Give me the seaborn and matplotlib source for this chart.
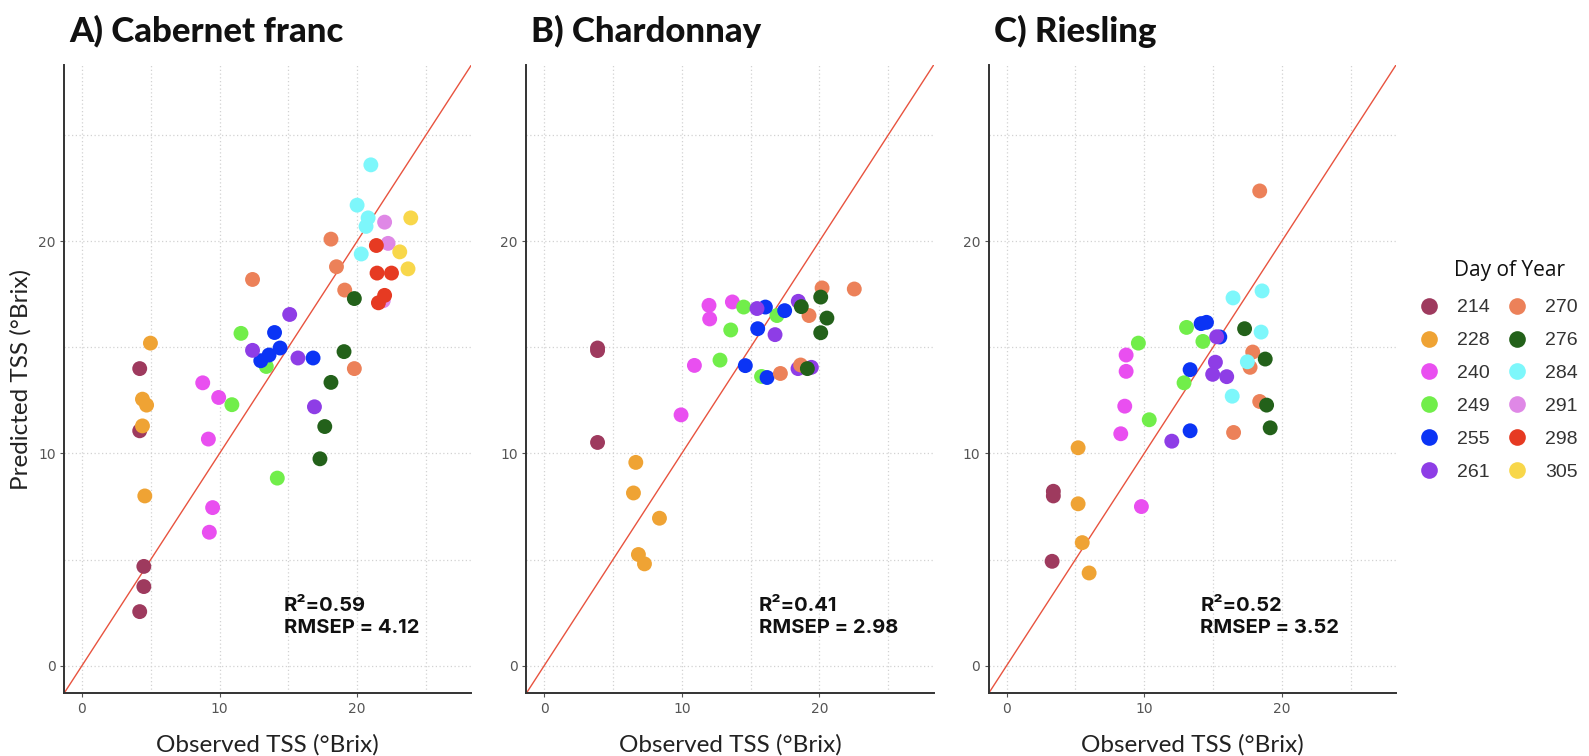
import matplotlib
matplotlib.use("Agg")
import matplotlib.pyplot as plt
from matplotlib.lines import Line2D
from matplotlib.ticker import MultipleLocator
import seaborn as sns
import pandas as pd

# ---------------- data ----------------
days = ["214", "228", "240", "249", "255", "261", "270", "276", "284", "291", "298", "305"]
day_colors = ["#9E3A5E", "#EFA334", "#E94FF0", "#71EE4A", "#0B34F5", "#8E3DE6",
              "#EC8159", "#23611A", "#7DF7FB", "#DF88E6", "#E63A22", "#F8D74A"]

panel_titles = ["A) Cabernet franc", "B) Chardonnay", "C) Riesling"]
panel_stats = ["R\u00b2=0.59\nRMSEP = 4.12", "R\u00b2=0.41\nRMSEP = 2.98", "R\u00b2=0.52\nRMSEP = 3.52"]

cf_day = ["214"] * 5 + ["228"] * 5 + ["240"] * 5 + ["249"] * 4 + ["255"] * 5 + ["261"] * 4 + \
         ["270"] * 5 + ["276"] * 5 + ["284"] * 5 + ["291"] * 3 + ["298"] * 5 + ["305"] * 3
cf_obs = [4.2, 4.2, 4.5, 4.5, 4.2,
          4.98, 4.4, 4.7, 4.4, 4.57,
          8.78, 9.94, 9.19, 9.5, 9.26,
          11.56, 13.4, 10.9, 14.2,
          14.0, 14.4, 13.6, 13.0, 16.8,
          15.1, 12.4, 15.7, 16.9,
          18.1, 18.5, 12.4, 19.1, 19.8,
          19.8, 19.05, 18.1, 17.65, 17.3,
          21.0, 20.0, 20.8, 20.65, 20.3,
          22.0, 22.25, 21.9,
          21.4, 21.45, 22.5, 22.0, 21.55,
          23.9, 23.1, 23.7]
cf_pred = [14.0, 11.07, 4.68, 3.73, 2.55,
           15.2, 12.56, 12.28, 11.3, 8.0,
           13.33, 12.64, 10.68, 7.45, 6.29,
           15.66, 14.1, 12.3, 8.84,
           15.7, 14.97, 14.64, 14.37, 14.5,
           16.55, 14.86, 14.5, 12.2,
           20.1, 18.8, 18.2, 17.7, 14.0,
           17.3, 14.8, 13.35, 11.27, 9.75,
           23.6, 21.7, 21.1, 20.7, 19.4,
           20.9, 19.9, 17.2,
           19.8, 18.5, 18.5, 17.45, 17.1,
           21.1, 19.5, 18.7]

ch_day = ["214"] * 3 + ["228"] * 5 + ["240"] * 5 + ["249"] * 5 + ["255"] * 5 + ["261"] * 5 + \
         ["270"] * 5 + ["276"] * 5
ch_obs = [3.88, 3.88, 3.88,
          6.66, 6.49, 8.38, 6.85, 7.29,
          11.98, 12.03, 13.68, 10.92, 9.95,
          14.5, 16.92, 13.56, 12.78, 15.8,
          16.08, 17.48, 15.52, 14.62, 16.2,
          15.47, 18.47, 16.78, 18.45, 19.42,
          19.25, 20.2, 22.54, 17.17, 18.64,
          18.69, 20.1, 20.55, 20.1, 19.13]
ch_pred = [14.97, 14.85, 10.52,
           9.58, 8.14, 6.95, 5.24, 4.8,
           16.98, 16.34, 17.14, 14.15, 11.82,
           16.9, 16.5, 15.82, 14.4, 13.63,
           16.9, 16.73, 15.88, 14.14, 13.58,
           16.83, 17.17, 15.6, 14.0, 14.06,
           16.5, 17.8, 17.75, 13.77, 14.17,
           16.92, 17.37, 16.38, 15.69, 14.0]

ri_day = ["214"] * 3 + ["228"] * 4 + ["240"] * 5 + ["249"] * 5 + ["255"] * 5 + ["261"] * 5 + \
         ["270"] * 5 + ["276"] * 4 + ["284"] * 5
ri_obs = [3.4, 3.4, 3.31,
          5.2, 5.2, 5.5, 6.0,
          8.69, 8.69, 8.59, 8.3, 9.8,
          13.08, 14.27, 9.58, 12.9, 10.37,
          14.14, 14.53, 15.5, 13.34, 13.34,
          15.27, 15.18, 14.98, 16.0, 12.01,
          18.4, 17.89, 17.7, 18.4, 16.5,
          17.3, 18.8, 18.9, 19.16,
          18.57, 16.46, 18.5, 17.5, 16.4]
ri_pred = [8.22, 8.0, 4.92,
           10.27, 7.63, 5.8, 4.37,
           14.64, 13.87, 12.23, 10.93, 7.5,
           15.94, 15.28, 15.2, 13.33, 11.59,
           16.12, 16.18, 15.49, 13.95, 11.07,
           15.5, 14.3, 13.73, 13.62, 10.58,
           22.37, 14.78, 14.06, 12.45, 10.99,
           15.88, 14.45, 12.28, 11.21,
           17.66, 17.33, 15.72, 14.32, 12.7]

ticks = [0, 10, 20]
axis_lim = (-1.3, 28.3)

# ---------------- figure ----------------
sns.set_theme(style="white")
plt.rcParams["font.family"] = ["Open Sans", "DejaVu Sans"]

palette = dict(zip(days, day_colors))
fig = plt.figure(figsize=(15.89, 7.56), dpi=100)
lefts = [0.0403, 0.3312, 0.6222]
panels = [(cf_obs, cf_pred, cf_day), (ch_obs, ch_pred, ch_day), (ri_obs, ri_pred, ri_day)]
stat_x = [0.54, 0.571, 0.52]

for i, (obs, pred, dd) in enumerate(panels):
    ax = fig.add_axes([lefts[i], 0.0829, 0.2563, 0.831])
    df = pd.DataFrame({"obs": obs, "pred": pred, "day": dd})
    ax.axline((0, 0), slope=1, color="#E8533F", lw=1.0, zorder=1)
    sns.scatterplot(data=df, x="obs", y="pred", hue="day", palette=palette,
                    hue_order=days, s=115, linewidth=0, alpha=1, legend=False,
                    ax=ax, zorder=3)
    ax.set_xlim(axis_lim)
    ax.set_ylim(axis_lim)
    ax.set_xticks(ticks)
    ax.set_yticks(ticks)
    ax.xaxis.set_minor_locator(MultipleLocator(5))
    ax.yaxis.set_minor_locator(MultipleLocator(5))
    ax.grid(True, which="both", color="#d2d2d2", linestyle=(0, (1, 2)), linewidth=0.9, zorder=0)
    ax.set_axisbelow(True)
    for s in ["top", "right"]:
        ax.spines[s].set_visible(False)
    for s in ["left", "bottom"]:
        ax.spines[s].set_color("#333333")
        ax.spines[s].set_linewidth(1.4)
    ax.tick_params(axis="both", which="major", length=3, width=0.8, color="#555555",
                   labelsize=10, labelcolor="#555555", pad=3, bottom=True, left=True)
    ax.tick_params(axis="both", which="minor", length=0)
    for lab in ax.get_xticklabels() + ax.get_yticklabels():
        lab.set_family(["Liberation Sans Narrow", "DejaVu Sans"])
    ax.set_xlabel("Observed TSS (\u00b0Brix)", fontsize=17.5, color="#222222", labelpad=13,
                  family=["Lato", "DejaVu Sans"])
    if i == 0:
        ax.set_ylabel("Predicted TSS (\u00b0Brix)", fontsize=17.5, color="#222222", labelpad=5,
                      family=["Lato", "DejaVu Sans"])
    else:
        ax.set_ylabel("")
    ax.text(0.012, 1.037, panel_titles[i], transform=ax.transAxes, fontsize=25,
            fontweight=900, family=["Lato", "DejaVu Sans"], color="#111111",
            va="baseline", ha="left")
    ax.text(stat_x[i], 0.153, panel_stats[i], transform=ax.transAxes, fontsize=14.5,
            fontweight="bold", family=["Inter", "DejaVu Sans"], color="#111111",
            va="top", ha="left", linespacing=1.3)

handles = [Line2D([0], [0], marker="o", linestyle="", markersize=12,
                  markerfacecolor=c, markeredgewidth=0) for c in day_colors]
leg = fig.legend(handles, days, ncol=2, loc="upper left", bbox_to_anchor=(0.882, 0.628),
                 frameon=False, fontsize=14,
                 handletextpad=0.94, columnspacing=0.94, labelspacing=0.79, handlelength=1.0)
for t in leg.get_texts():
    t.set_color("#333333")
    t.set_family(["Liberation Sans", "DejaVu Sans"])
fig.text(1509 / 1589, 1 - 270 / 756, "Day of Year", fontsize=15, color="#111111",
         ha="center", va="center")

fig.savefig("out.png", dpi=100)
